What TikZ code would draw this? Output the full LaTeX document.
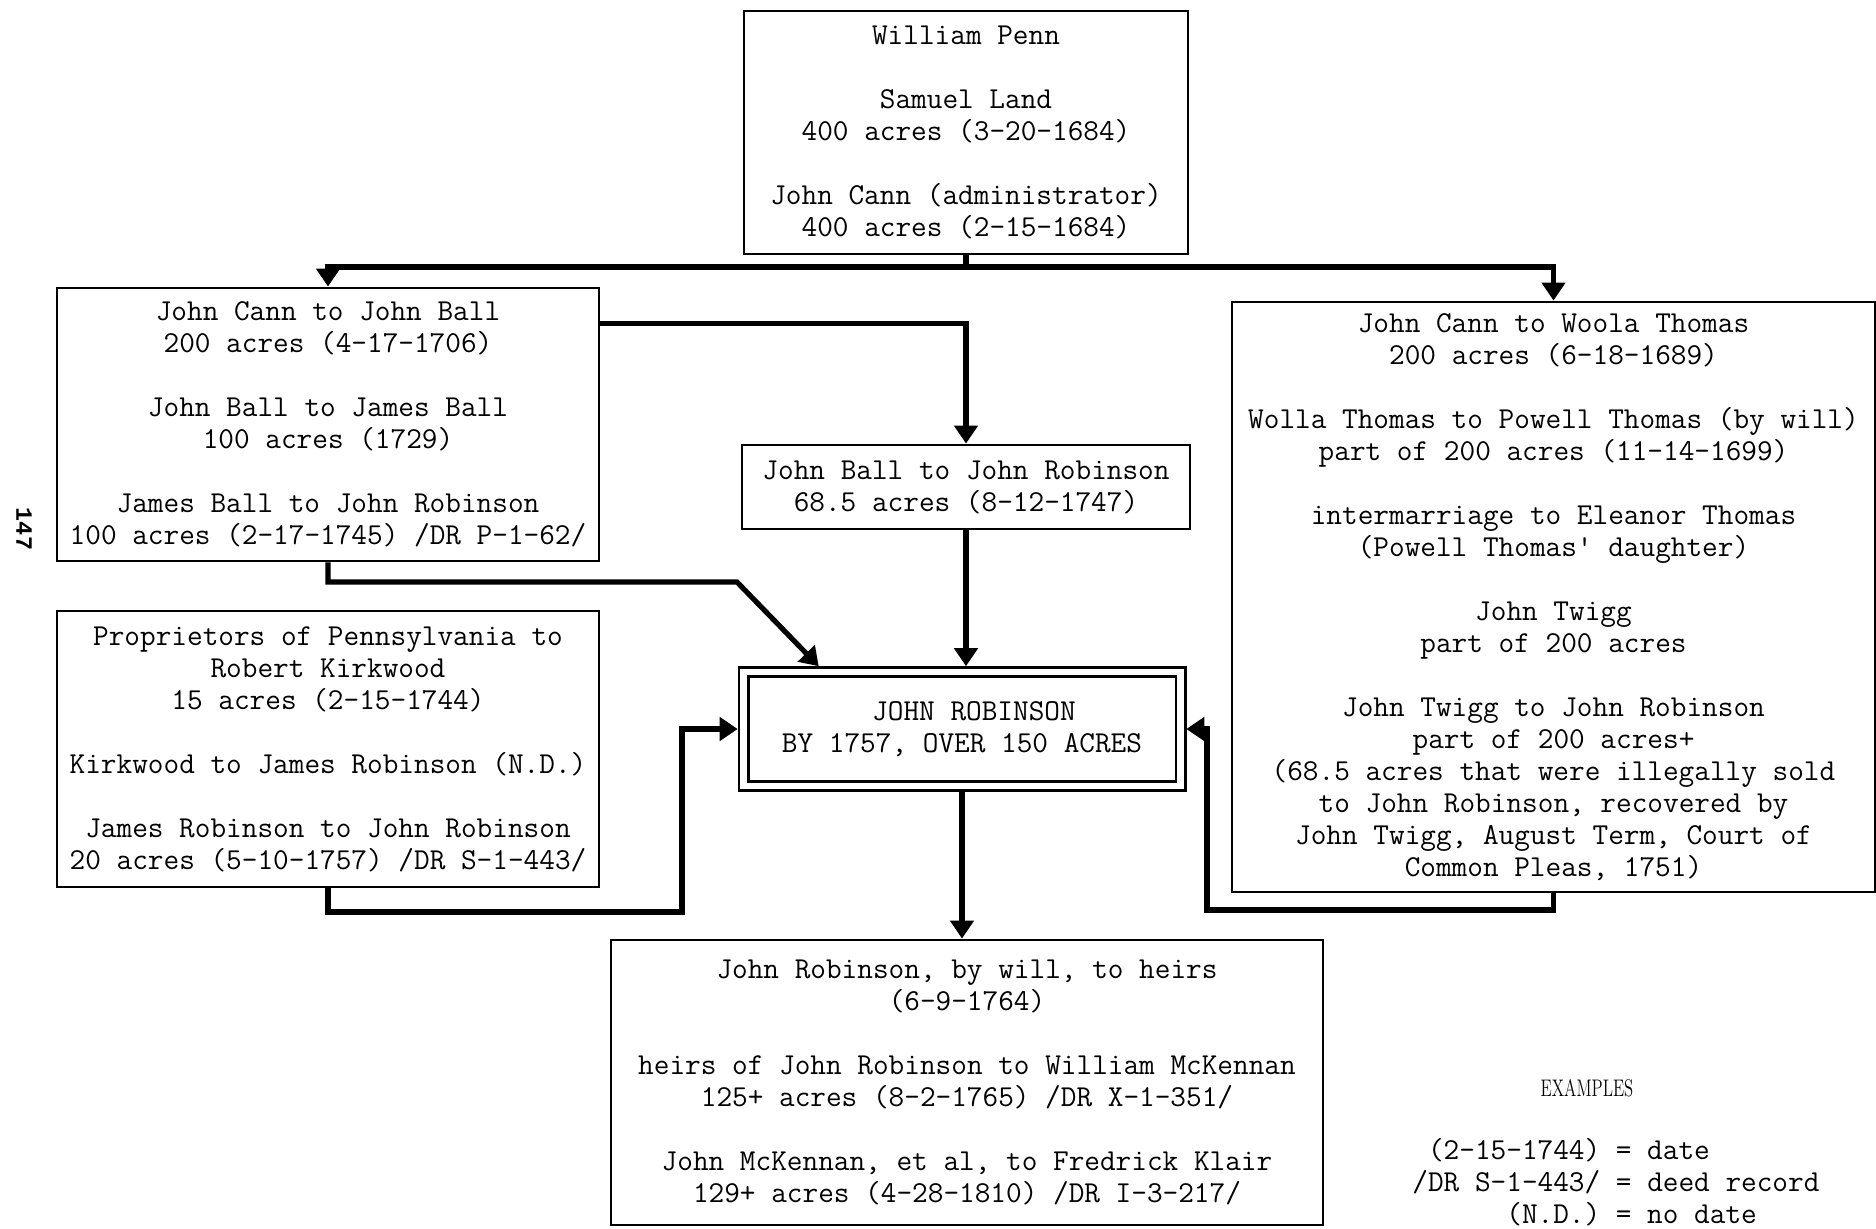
\documentclass[tikz,border=0pt]{standalone}
\usepackage{fontspec}
\newfontfamily\pagefont{Liberation Mono}
\usepackage{tikz}
\usetikzlibrary{arrows.meta,calc}

\begin{document}
\begin{tikzpicture}[x=0.5pt,y=-0.5pt,
	deed/.style={draw,line width=1.4pt,inner sep=0pt,align=center,font=\ttfamily\fontsize{15.2}{16}\selectfont},
	conn/.style={line width=2.6pt},
	arr/.style={line width=2.6pt,-{Triangle[length=9pt,width=11.5pt]}}]
	\useasboundingbox (0,0) rectangle (1876,1228);
	% boxes
	\node[deed,minimum width=222pt,minimum height=121.5pt] (penn) at (966,132.5) {William Penn\\[16pt]Samuel Land\\400 acres (3-20-1684)\\[16pt]John Cann (administrator)\\400 acres (2-15-1684)};
	\node[deed,minimum width=271pt,minimum height=136.5pt] (ballA) at (328,424.5) {John Cann to John Ball\\200 acres (4-17-1706)\\[16pt]John Ball to James Ball\\100 acres (1729)\\[16pt]James Ball to John Robinson\\100 acres (2-17-1745) /DR P-1-62/};
	\node[deed,minimum width=271pt,minimum height=138pt] (kirk) at (328,749) {Proprietors of Pennsylvania to\\Robert Kirkwood\\15 acres (2-15-1744)\\[16pt]Kirkwood to James Robinson (N.D.)\\[16pt]James Robinson to John Robinson\\20 acres (5-10-1757) /DR S-1-443/};
	\node[deed,minimum width=224pt,minimum height=42pt] (ballrob) at (966,487) {John Ball to John Robinson\\68.5 acres (8-12-1747)};
	\node[deed,double,double distance=3.2pt,outer sep=2.9pt,minimum width=218.5pt,minimum height=57pt] (robinson) at (962,729) {\hspace*{12pt}JOHN ROBINSON\\BY 1757, OVER 150 ACRES};
	\node[deed,minimum width=321.5pt,minimum height=295pt] (thomas) at (1553.5,597) {John Cann to Woola Thomas\\200 acres (6-18-1689)\\[16pt]Wolla Thomas to Powell Thomas (by will)\\part of 200 acres (11-14-1699)\\[16pt]intermarriage to Eleanor Thomas\\(Powell Thomas' daughter)\\[16pt]John Twigg\\part of 200 acres\\[16pt]John Twigg to John Robinson\\part of 200 acres+\\(68.5 acres that were illegally sold\\to John Robinson, recovered by\\John Twigg, August Term, Court of\\Common Pleas, 1751)};
	\node[deed,minimum width=356pt,minimum height=142.5pt] (heirs) at (967,1082.5) {John Robinson, by will, to heirs\\(6-9-1764)\\[16pt]heirs of John Robinson to William McKennan\\125+ acres (8-2-1765) /DR X-1-351/\\[16pt]John McKennan, et al, to Fredrick Klair\\129+ acres (4-28-1810) /DR I-3-217/};
	% page number and key
	\node[rotate=-90,font=\pagefont\bfseries\fontsize{11.7}{14}\selectfont] (pageno) at (24,529) {147};
	\node[xscale=0.7,font=\rmfamily\fontsize{12}{14}\selectfont] (exhead) at (1587,1088) {EXAMPLES};
	\node[anchor=base west,inner sep=0pt,font=\ttfamily\fontsize{15.2}{16}\selectfont] (exkey) at (1412,1159) {\begin{tabular}[t]{@{}r@{ = }l@{}}(2-15-1744)&date\\/DR S-1-443/&deed record\\(N.D.)&no date\end{tabular}};
	% connectors
	\coordinate (bus) at (966,267);
	\draw[conn] (penn.south) -- (bus);
	\draw[arr] (bus) -| (ballA.north);
	\draw[arr] (bus) -| (thomas.north);
	\coordinate (ballOut) at ($(ballA.north east)+(0,37)$);
	\draw[arr] (ballOut) -| (ballrob.north);
	\draw[arr] (ballrob.south) -- (ballrob.south |- robinson.north);
	\coordinate (ballBend) at (737,582);
	\coordinate (robTop) at ($(robinson.north west)+(81,0)$);
	\draw[arr] (ballA.south) |- (ballBend) -- (robTop);
	\coordinate (kirkLow) at (682,912);
	\draw[arr] (kirk.south) |- (kirkLow) |- (robinson.west);
	\coordinate (thomLow) at (1207,910);
	\draw[arr] (thomas.south) |- (thomLow) |- (robinson.east);
	\draw[arr] (robinson.south) -- (robinson.south |- heirs.north);
\end{tikzpicture}
\end{document}
